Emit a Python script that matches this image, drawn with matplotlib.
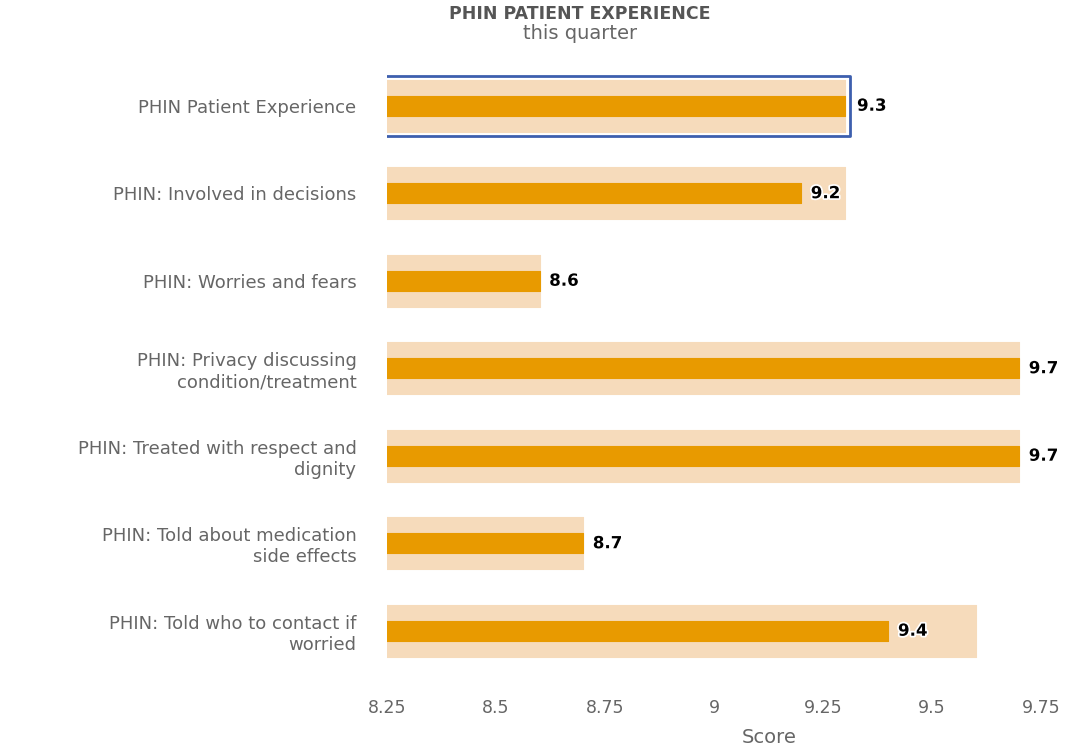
import matplotlib.pyplot as plt
import matplotlib.patches as mpatches
import matplotlib.patheffects as pe
import numpy as np

categories = [
    "PHIN Patient Experience",
    "PHIN: Involved in decisions",
    "PHIN: Worries and fears",
    "PHIN: Privacy discussing\ncondition/treatment",
    "PHIN: Treated with respect and\ndignity",
    "PHIN: Told about medication\nside effects",
    "PHIN: Told who to contact if\nworried",
]
scores = [9.3, 9.2, 8.6, 9.7, 9.7, 8.7, 9.4]
benchmark = [9.3, 9.3, 8.6, 9.7, 9.7, 8.7, 9.6]
xticks = [8.25, 8.5, 8.75, 9.0, 9.25, 9.5, 9.75]
xtick_labels = ["8.25", "8.5", "8.75", "9", "9.25", "9.5", "9.75"]

ORANGE = "#E89A00"
PEACH = "#F6DBBB"
BLUE = "#3D5FAE"
GREY = "#666666"

plt.rcParams['font.family'] = ['DejaVu Sans']

fig = plt.figure(figsize=(10.7, 7.5), dpi=100)
ax = fig.add_axes([0.3617, 0.1007, 0.6112, 0.8167])

y = np.arange(len(categories))

# background (comparison) bars and the score bars on top
ax.barh(y, benchmark, height=0.59, color=PEACH, edgecolor=PEACH,
        linewidth=0.8, joinstyle='round', zorder=1)
ax.barh(y, scores, height=0.23, color=ORANGE, edgecolor=ORANGE,
        linewidth=0.8, joinstyle='round', zorder=2)

# highlighted first row
hl = mpatches.Rectangle((8.1, y[0] - 0.345), benchmark[0] + 0.012 - 8.1, 0.69,
                        fill=False, edgecolor=BLUE, linewidth=2,
                        joinstyle='round', zorder=3)
ax.add_patch(hl)

for i, v in enumerate(scores):
    off = 0.028 if i == 0 else 0.022
    ax.text(v + off, y[i], f"{v:.1f}", va='center', ha='left',
            fontsize=12, fontweight='bold', color='black', zorder=4,
            path_effects=[pe.withStroke(linewidth=2.5, foreground='white')])

ax.set_xlim(8.25, 9.75)
ax.set_ylim(len(categories) - 0.5, -0.5)
ax.set_xticks(xticks)
ax.set_xticklabels(xtick_labels)
ax.set_yticks(y)
ax.set_yticklabels(categories, linespacing=1.2)
ax.tick_params(axis='x', length=0, pad=18, labelsize=12.5, colors=GREY)
ax.tick_params(axis='y', length=0, pad=22, labelsize=13, colors=GREY)
for s in ax.spines.values():
    s.set_visible(False)

fig.text(0.542, 0.981, "PHIN PATIENT EXPERIENCE", ha='center', va='center',
         fontsize=12.5, fontweight='bold', color='#555555')
fig.text(0.542, 0.955, "this quarter", ha='center', va='center',
         fontsize=14, color=GREY)
fig.text(0.7187, 0.017, "Score", ha='center', va='center',
         fontsize=14, color=GREY)

fig.savefig("out.png", dpi=100)
